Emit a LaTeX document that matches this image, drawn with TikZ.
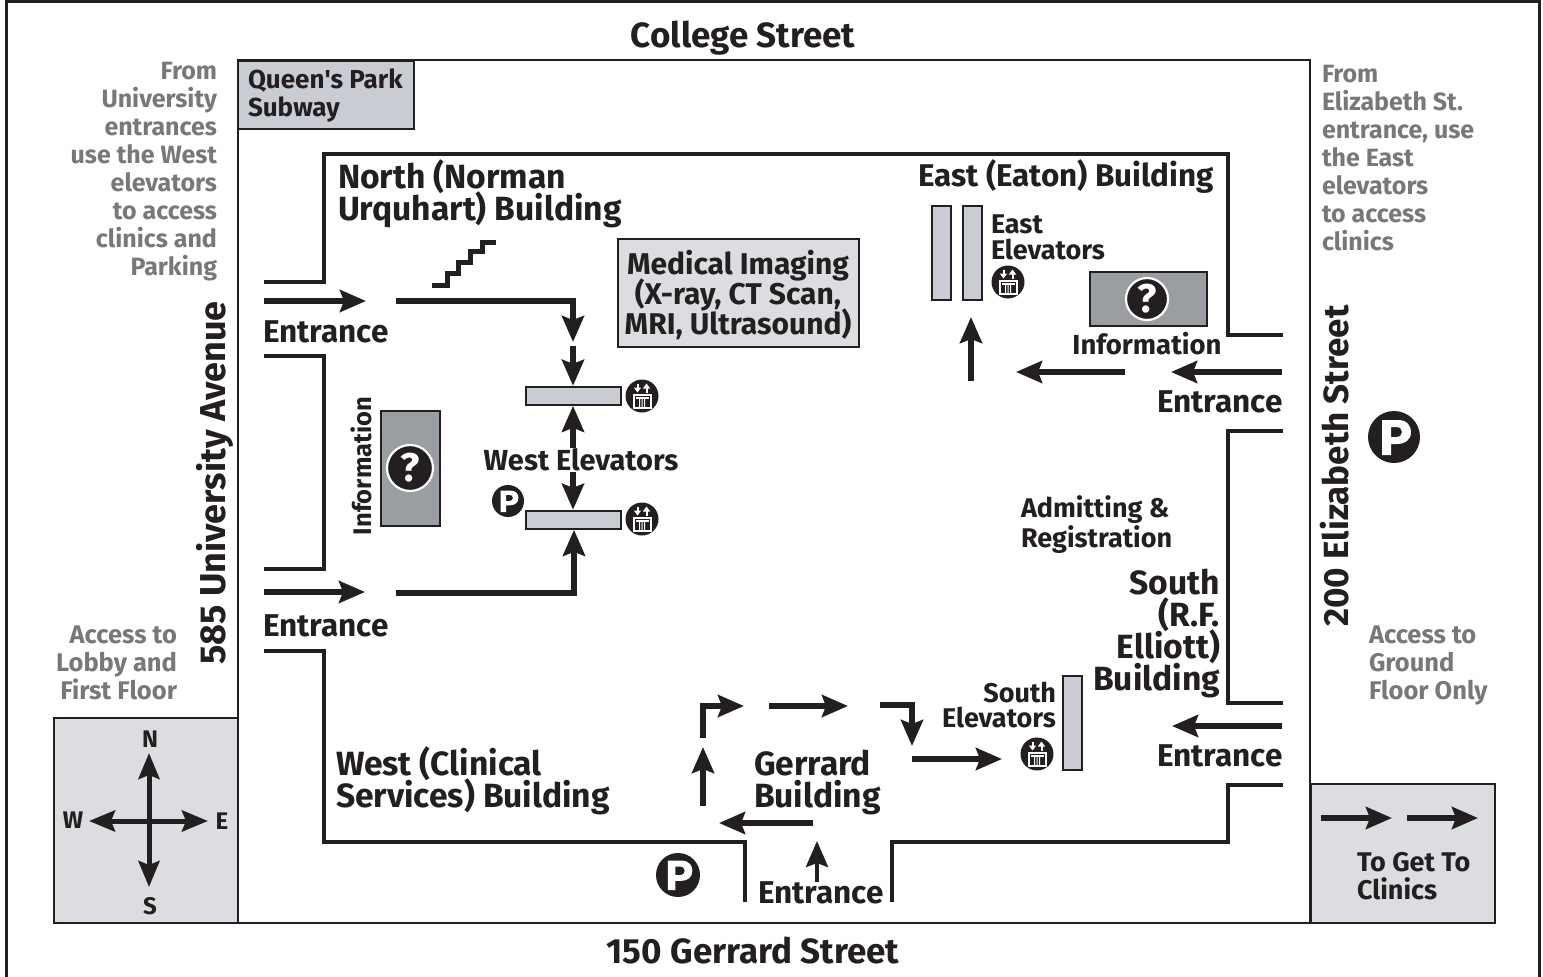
\documentclass[tikz,border=0pt]{standalone}
\usepackage{fontspec}
\setmainfont{Fira Sans}
\usetikzlibrary{arrows.meta}
\definecolor{ink}{HTML}{231F20}
\definecolor{boxgrey}{HTML}{C9CCD3}
\definecolor{pale}{HTML}{DCDDE0}
\definecolor{infogrey}{HTML}{9A9EA3}
\definecolor{greytext}{HTML}{77787B}
\newcommand{\fs}[2]{\fontsize{#1}{#2}\selectfont\bfseries\lineskiplimit=-100pt\relax}
\tikzset{
  x=1pt,y=-1pt,
  wall/.style={draw=ink,line width=3.6pt,line cap=butt,line join=miter},
  arr/.style={draw=ink,line width=5.5pt,line join=miter,-{Stealth[length=26pt,width=22pt,inset=4pt]}},
  both/.style={draw=ink,line width=5pt,{Stealth[length=26pt,width=21pt,inset=4pt]}-{Stealth[length=26pt,width=21pt,inset=4pt]}},
  lbl/.style={text=ink,inner sep=0pt,outer sep=0pt},
  big/.style={lbl,font=\fs{35}{36}},
  bld/.style={lbl,font=\fs{33.6}{32},align=left},
  ent/.style={lbl,font=\fs{31.5}{30}},
  med/.style={lbl,font=\fs{27}{30},align=center},
  gry/.style={lbl,text=greytext,font=\fs{25.5}{28}},
  elevbar/.style={draw=ink,line width=2pt,fill=boxgrey,inner sep=0,anchor=north west,xshift=-0.7pt,yshift=0.7pt},
  panel/.style={draw=ink,line width=2pt,inner sep=0,anchor=north west,xshift=-0.7pt,yshift=0.7pt},
}
\newcommand{\parkicon}[3]{%
  \fill[ink] (#1,#2) circle[radius=#3];
  \begin{scope}[shift={(#1,#2)},scale=#3/26]
    \fill[white,even odd rule] (-12,-17) -- (4,-17) .. controls (14,-17) and (17,-10) .. (17,-5)
      .. controls (17,3) and (11,7) .. (3,7) -- (-3,7) -- (-3,18) -- (-12,18) -- cycle
      (-3,-10) -- (-3,0) -- (2,0) .. controls (6,0) and (8,-2) .. (8,-5) .. controls (8,-8) and (6,-10) .. (2,-10) -- cycle;
  \end{scope}}
\newcommand{\elevicon}[2]{%
  \fill[ink] (#1,#2) circle[radius=16.5];
  \begin{scope}[shift={(#1,#2)}]
    \fill[white] (-9.5,-2) rectangle (9.5,13);
    \fill[ink] (-7.5,-0.5) rectangle (7.5,11);
    \fill[white] (-6.5,1) rectangle (6.5,3.2);
    \fill[white] (-3,3) rectangle (-2,11) (2,3) rectangle (3,11) (-0.5,3) rectangle (0.5,11);
    \draw[white,line width=2pt,-{Stealth[length=5pt,width=7pt,inset=0pt]}] (-4.5,-12) -- (-4.5,-3.5);
    \draw[white,line width=2pt,-{Stealth[length=5pt,width=7pt,inset=0pt]}] (4.5,-3.5) -- (4.5,-12.5);
  \end{scope}}
\newcommand{\quesicon}[3]{%
  \fill[ink] (#1,#2) circle[radius=#3];
  \draw[white,line width=2.2pt] (#1,#2) circle[radius=#3];
  \node[lbl,text=white,font=\fs{40}{40}] at (#1,#2) {?};}
\begin{document}
\begin{tikzpicture}
\useasboundingbox (0,0) rectangle (1543,977);
% frames
\draw[ink,line width=3pt] (6.5,977) -- (6.5,1) -- (1539,1) -- (1539,977);
\draw[draw=ink,line width=2pt] (238,60) rectangle (1310,923);
\node[panel,fill=pale,minimum width=184pt,minimum height=205pt] (compass) at (53.7,718) {};
\node[panel,fill=pale,minimum width=184pt,minimum height=139pt] (legend) at (1311,784) {};
\node[panel,fill=boxgrey,minimum width=176pt,minimum height=68pt] (subway) at (238,60.5) {};
\node[lbl,font=\fs{26}{28},align=left,anchor=west] (subwayt) at (248,96) {Queen\textquotesingle s Park\\Subway};
% walls
\draw[wall] (264,282) -- (324,282) -- (324,154) -- (1228,154) -- (1228,335) -- (1283,335);
\draw[wall] (1283,431) -- (1228,431) -- (1228,703) -- (1283,703);
\draw[wall] (1283,785) -- (1228,785) -- (1228,842) -- (892,842) -- (892,902);
\draw[wall] (745,902) -- (745,842) -- (324,842) -- (324,651) -- (264,651);
\draw[wall] (264,356) -- (324,356) -- (324,569) -- (264,569);
% street labels
\node[big] (college) at (743,38) {College Street};
\node[big] (gerrard) at (753,951) {150 Gerrard Street};
\node[big,rotate=90,font=\fs{36}{36}] (univ) at (215,483) {585 University Avenue};
\node[big,rotate=90] (eliz) at (1335,466) {200 Elizabeth Street};
% grey notes
\node[gry,align=right,anchor=east,font=\fs{25}{28}] (n1) at (217,172) {From\\University\\entrances\\use the West\\elevators\\to access\\clinics and\\Parking};
\node[gry,align=left,anchor=west,font=\fs{25}{28}] (n2) at (1322,158) {From\\Elizabeth St.\\entrance, use\\the East\\elevators\\to access\\clinics};
\node[gry,align=right,anchor=east] (n3) at (177,663) {Access to\\Lobby and\\First Floor};
\node[gry,align=left,anchor=west] (n4) at (1369,665) {Access to\\Ground\\Floor Only};
% buildings
\node[bld,anchor=west] (north) at (338,193.5) {North (Norman\\Urquhart) Building};
\node[bld,anchor=east,font=\fs{31.4}{32}] (east) at (1214,176) {East (Eaton) Building};
\node[bld,anchor=west] (west) at (336,781) {West (Clinical\\Services) Building};
\node[bld,anchor=west] (gerr) at (754,782) {Gerrard\\Building};
\node[bld,align=right,anchor=east] (south) at (1220,633) {South\\(R.F.\\Elliott)\\Building};
\node[med,align=left,anchor=west] (admit) at (1021,525) {Admitting \&\\Registration};
% medical imaging
\node[panel,line width=1.5pt,fill=pale,minimum width=241pt,minimum height=108pt] (imaging) at (618,239) {};
\node[med,font=\fs{30}{30}] (imagingt) at (738,294.5) {Medical Imaging\\(X-ray, CT Scan,\\MRI, Ultrasound)};
% stairs
\draw[ink,line width=5pt,line join=miter] (432,285) -- (447,285) -- (447,273) -- (458,273) -- (458,262) -- (470,262) -- (470,251) -- (482,251) -- (482,242) -- (496,242);
% entrances
\node[ent,anchor=west] (e1) at (263,332) {Entrance};
\node[ent,anchor=west] (e2) at (263,626) {Entrance};
\node[ent,anchor=west] (e3) at (1157,402) {Entrance};
\node[ent,anchor=west] (e4) at (1157,756) {Entrance};
\node[ent,anchor=west] (e5) at (758,893) {Entrance};
% elevators
\node[elevbar,minimum width=95pt,minimum height=18pt] (w1) at (526,386.5) {};
\node[elevbar,minimum width=95pt,minimum height=18pt] (w2) at (526,510.5) {};
\node[elevbar,minimum width=19pt,minimum height=94pt] (ea) at (932,205.5) {};
\node[elevbar,minimum width=19pt,minimum height=94pt] (eb) at (963,205.5) {};
\node[elevbar,minimum width=19pt,minimum height=94pt] (sb) at (1063,675.5) {};
\elevicon{642}{396}
\elevicon{642}{519}
\elevicon{1008}{282}
\elevicon{1037}{754}
\node[lbl,align=left,anchor=west,font=\fs{27}{26}] (eastt) at (991,237) {East\\Elevators};
\node[lbl,align=right,anchor=east,font=\fs{27}{25}] (southt) at (1056,705) {South\\Elevators};
% arrows
\coordinate (a1s) at (264,301); \coordinate (a1e) at (366,301);
\draw[arr] (a1s) -- (a1e);
\coordinate (a2s) at (396,301); \coordinate (a2e) at (573,342);
\draw[arr] (a2s) -- (573,301) -- (a2e);
\draw[arr] (573,346) -- (w1.north -| 573,346);
\coordinate (wa) at (573,448); \coordinate (wb) at (573,472);
\draw[arr] (wa) -- (w1.south -| wa);
\draw[arr] (wb) -- (w2.north -| wb);
\coordinate (a3s) at (264,592); \coordinate (a3e) at (365,592);
\draw[arr] (a3s) -- (a3e);
\draw[arr] (396,593) -- (574,593) -- (w2.south -| 574,593);
\node[lbl,font=\fs{29}{30}] (wet) at (581,460) {West Elevators};
% east arrows
\draw[arr] (1282,372) -- (1171,372);
\draw[arr] (1125,372) -- (1016,372);
\draw[arr] (971,381) -- (971,317);
\node[panel,fill=infogrey,minimum width=117pt,minimum height=54pt] (info2) at (1089.5,271.5) {};
\quesicon{1147}{299}{21}
\node[lbl,font=\fs{27.5}{30}] (info2t) at (1147,344) {Information};
\node[panel,fill=infogrey,minimum width=59pt,minimum height=115pt] (info1) at (380.5,410.5) {};
\quesicon{410}{468}{23}
\node[lbl,rotate=90,font=\fs{25.5}{30}] (info1t) at (361,466) {Information};
% south arrows
\draw[arr] (1282,726) -- (1172,726);
\draw[arr] (912,759) -- (1002,759);
\draw[arr] (880,705) -- (912,705) -- (912,746);
\draw[arr] (769,706) -- (848,706);
\draw[arr] (703,738) -- (703,706) -- (744,706);
\draw[arr] (703,806) -- (703,747);
\draw[arr] (813,823) -- (719,823);
\draw[arr,line width=4.5pt] (817,882) -- (817,841);
% legend
\draw[arr] (1321,818) -- (1392,818);
\draw[arr] (1407,818) -- (1478,818);
\node[lbl,font=\fs{27}{28},align=left,anchor=west] (legt) at (1357,876) {To Get To\\Clinics};
% parking
\parkicon{1394}{437}{26}
\parkicon{678}{875}{22}
\parkicon{508}{501}{16}
% compass
\draw[both] (149,753) -- (149,887);
\draw[both] (89,821) -- (208,821);
\node[lbl,font=\fs{24}{24}] (nn) at (150,739) {N};
\node[lbl,font=\fs{24}{24}] (ss) at (150,906) {S};
\node[lbl,font=\fs{24}{24}] (ww) at (73,820) {W};
\node[lbl,font=\fs{24}{24}] (ee) at (222,821) {E};
\end{tikzpicture}
\end{document}
